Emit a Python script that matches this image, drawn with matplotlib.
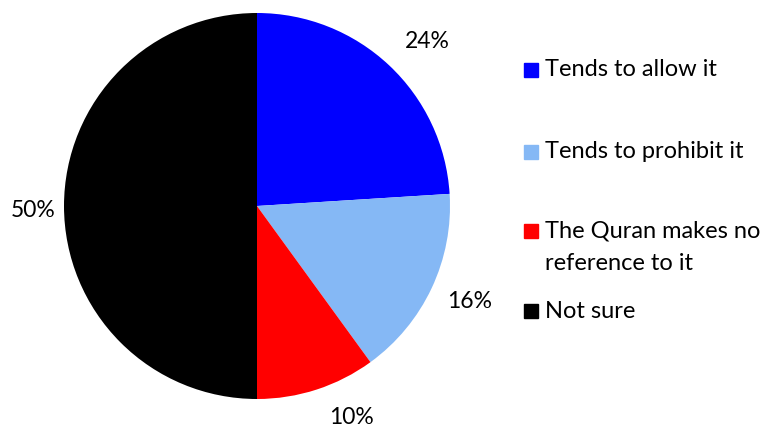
import matplotlib
matplotlib.use("Agg")
import matplotlib.pyplot as plt
from matplotlib.patches import Rectangle

categories = ["Tends to allow it", "Tends to prohibit it",
              "The Quran makes no\nreference to it", "Not sure"]
values = [24, 16, 10, 50]
colors = ["#0000FF", "#85B8F5", "#FF0000", "#000000"]

plt.rcParams["font.family"] = ["Lato", "DejaVu Sans"]

W, H = 770, 429
fig = plt.figure(figsize=(W / 100, H / 100), dpi=100)

# pie area in pixel units: centre and radius
cx, cy, r = 257, 206, 193
ax = fig.add_axes([(cx - r) / W, (H - cy - r) / H, 2 * r / W, 2 * r / H])
wedges, _, autotexts = ax.pie(values, colors=colors, startangle=90, counterclock=False,
                              radius=1, autopct=lambda p: f"{p:.0f}%",
                              textprops=dict(fontsize=16.5, color="black"),
                              wedgeprops=dict(linewidth=0))

# percentage labels sit just outside the rim
label_xy = [(0.881, 0.85), (1.104, -0.497), (0.492, -1.098), (-1.161, -0.021)]
for t, (x, y) in zip(autotexts, label_xy):
    t.set_position((x, y))
    t.set_ha("center")
    t.set_va("center")

ax.set_xlim(-1, 1)
ax.set_ylim(-1, 1)
ax.set_aspect("auto")
ax.axis("off")

# legend drawn entry by entry
leg_y = [70, 152, 231, 311]
line_gap = 32
for lab, col, y in zip(categories, colors, leg_y):
    fig.patches.append(Rectangle((524 / W, (H - y - 7) / H), 14 / W, 14 / H,
                                 transform=fig.transFigure, color=col))
    for i, line in enumerate(lab.split("\n")):
        fig.text(545 / W, (H - y - i * line_gap) / H, line, fontsize=17,
                 va="center", ha="left")

fig.savefig("out.png", dpi=100)
